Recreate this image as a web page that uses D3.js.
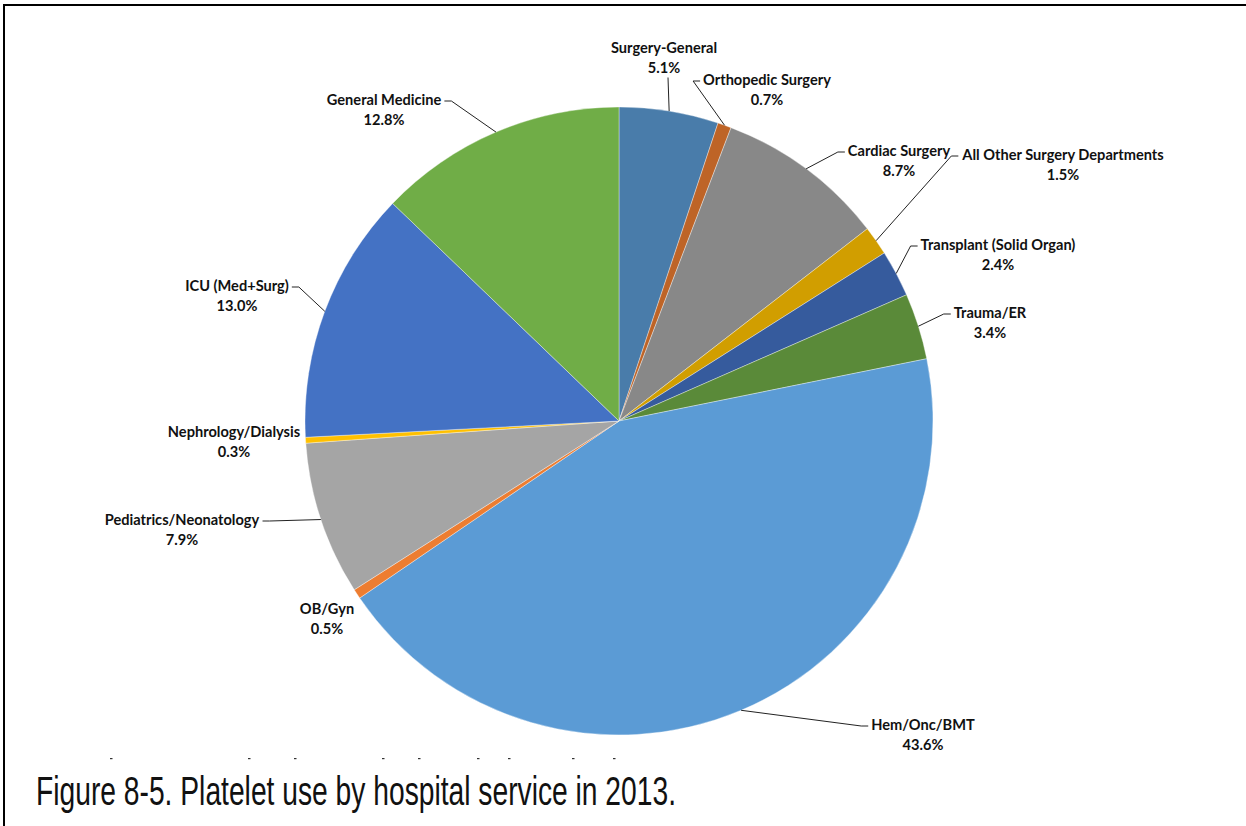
<!DOCTYPE html>
<html>
<head>
<meta charset="utf-8">
<script src="https://cdn.jsdelivr.net/npm/d3@7"></script>
<style>
  html, body { margin: 0; padding: 0; background: #fff; }
  svg { display: block; }
  .lbl { font-family: Lato, "Open Sans", sans-serif; font-weight: 700; font-size: 14.6px; fill: #111; }
  .cap { font-family: "Liberation Sans Narrow", "Liberation Sans", sans-serif; font-size: 41px; fill: #111; }
</style>
</head>
<body>
<svg id="chart" width="1246" height="826"></svg>
<script>
// Platelet use by hospital service, 2013 (percent of units), clockwise from 12 o'clock
const services = [
  "Surgery-General", "Orthopedic Surgery", "Cardiac Surgery",
  "All Other Surgery Departments", "Transplant (Solid Organ)", "Trauma/ER",
  "Hem/Onc/BMT", "OB/Gyn", "Pediatrics/Neonatology",
  "Nephrology/Dialysis", "ICU (Med+Surg)", "General Medicine"
];
const shares = [5.1, 0.7, 8.7, 1.5, 2.4, 3.4, 43.6, 0.5, 7.9, 0.3, 13.0, 12.8];
const sliceColors = [
  "#497CAA", "#BE6427", "#888888", "#D19E00", "#365B9D", "#5A8A39",
  "#5B9BD5", "#ED7D31", "#A5A5A5", "#FFC000", "#4472C4", "#70AD47"
];

// Label placement: text centre x, first-line baseline y, side the leader leaves from
const labelLayout = [
  { x: 664,  y: 52.5, side: "below" },
  { x: 767,  y: 85,   side: "left" },
  { x: 899,  y: 156,  side: "left" },
  { x: 1063, y: 160,  side: "left" },
  { x: 998,  y: 250,  side: "left" },
  { x: 990,  y: 318,  side: "left" },
  { x: 923,  y: 730,  side: "left" },
  { x: 327,  y: 614,  side: "none" },
  { x: 182,  y: 525,  side: "right" },
  { x: 234,  y: 437,  side: "none" },
  { x: 237,  y: 291,  side: "right" },
  { x: 384,  y: 105,  side: "right" }
];

const svg = d3.select("#chart");
const cx = 619, cy = 421, R = 314;

// Frame lines (top and left)
svg.append("line").attr("x1", 3).attr("x2", 1246).attr("y1", 5).attr("y2", 5)
  .attr("stroke", "#000").attr("stroke-width", 2);
svg.append("line").attr("x1", 4).attr("x2", 4).attr("y1", 4).attr("y2", 826)
  .attr("stroke", "#000").attr("stroke-width", 2);

const pie = d3.pie().sort(null).value(d => d)(shares);
const arc = d3.arc().innerRadius(0).outerRadius(R);
const edge = d3.arc().innerRadius(R).outerRadius(R);

const g = svg.append("g").attr("transform", `translate(${cx},${cy})`);
g.selectAll("path.slice")
  .data(pie)
  .join("path")
  .attr("class", "slice")
  .attr("d", arc)
  .attr("fill", (d, i) => sliceColors[i])
  .attr("stroke", "#ffffff")
  .attr("stroke-opacity", 0.6)
  .attr("stroke-width", 0.6);

// Data labels with leader lines
const labels = svg.append("g");
pie.forEach((d, i) => {
  const L = labelLayout[i];
  const t = labels.append("text").attr("class", "lbl").attr("text-anchor", "middle");
  const name = t.append("tspan").attr("x", L.x).attr("y", L.y).text(services[i]);
  t.append("tspan").attr("x", L.x).attr("y", L.y + 20).text(d3.format(".1f")(shares[i]) + "%");

  if (L.side === "none") return;
  const [ex, ey] = edge.centroid(d);
  const px = cx + ex, py = cy + ey;
  let pts;
  if (L.side === "below") {
    const sx = L.x + 4;
    pts = [[sx, L.y + 25], [px, py]];
  } else {
    const bb = name.node().getBBox();
    const ly = L.y - 4;
    if (L.side === "left") {
      const sx = bb.x - 3;
      pts = [[sx, ly], [sx - 7, ly], [px, py]];
    } else {
      const sx = bb.x + bb.width + 3;
      pts = [[sx, ly], [sx + 7, ly], [px, py]];
    }
  }
  labels.append("polyline")
    .attr("points", pts.map(p => p.join(",")).join(" "))
    .attr("fill", "none")
    .attr("stroke", "#222")
    .attr("stroke-width", 1);
});

// Clipped remnants of a hidden text row above the caption
const remnantX = [110, 248, 294, 382, 418, 477, 508, 572, 613];
svg.append("g").selectAll("rect").data(remnantX).join("rect")
  .attr("x", d => d).attr("y", 758).attr("width", 2.5).attr("height", 1.2)
  .attr("fill", "#333");

// Figure caption
svg.append("text").attr("class", "cap")
  .attr("x", 36).attr("y", 805)
  .attr("textLength", 640).attr("lengthAdjust", "spacingAndGlyphs")
  .text("Figure 8-5. Platelet use by hospital service in 2013.");
</script>
</body>
</html>
